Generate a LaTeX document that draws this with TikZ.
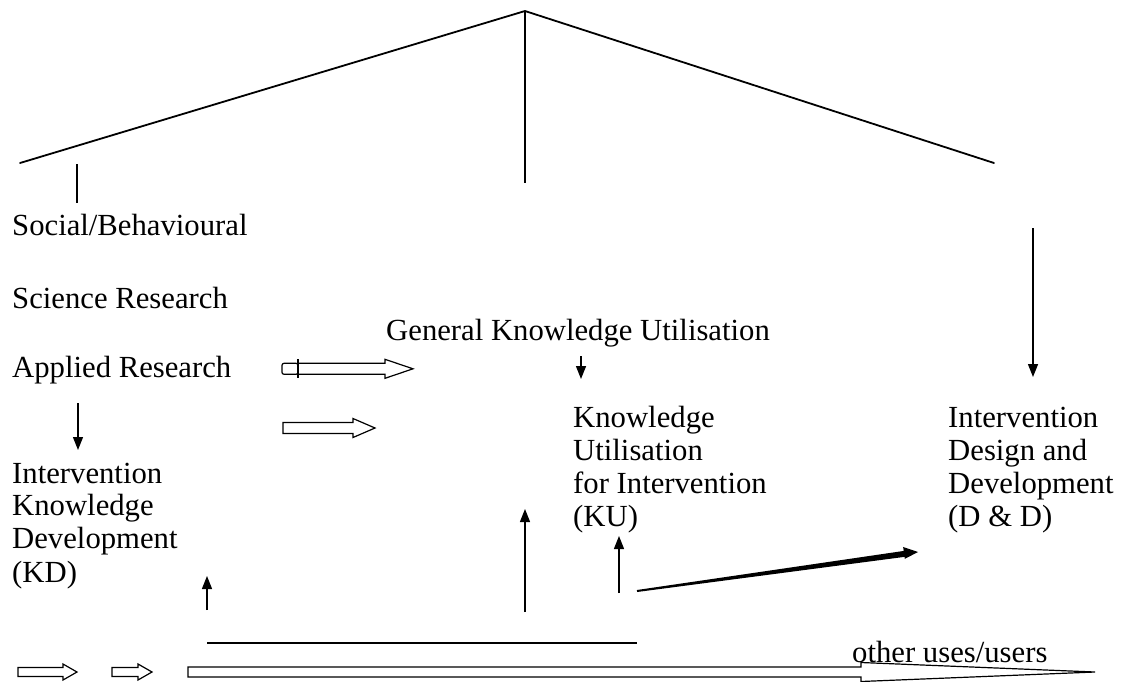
\documentclass[tikz,border=0pt]{standalone}
\usepackage{fontspec}
\setmainfont{Liberation Serif}
\usetikzlibrary{arrows.meta}
\newcommand\hollowarr[7]{% name x1 x2 y shafthalf headhalf headlen
  \draw[hollow] (#2,#4-#5) coordinate (#1-s) -- (#3-#7,#4-#5) -- (#3-#7,#4-#6) -- (#3,#4) coordinate (#1-t) -- (#3-#7,#4+#6) -- (#3-#7,#4+#5) -- (#2,#4+#5) -- cycle;}
\begin{document}
\begin{tikzpicture}[x=1pt,y=-1pt,
  txt/.style={anchor=base west,inner sep=0pt,font=\fontsize{30.7}{34}\selectfont},
  roof/.style={line width=1.8pt,line cap=round,line join=miter},
  thinline/.style={line width=1.3pt},
  darrow/.style={line width=1.4pt,-{Triangle[length=13pt,width=10pt]}},
  hollow/.style={line width=1.2pt,fill=white,line join=miter}]
\useasboundingbox (0,0) rectangle (1124,681);

% roof
\coordinate (rl) at (20,163);
\coordinate (apex) at (525,11);
\coordinate (rr) at (994,163);
\coordinate (ab) at (525,183);
\draw[roof] (rl) -- (apex) -- (rr);
\draw[thinline] (apex) -- (ab);
\coordinate (tt) at (77,164);
\coordinate (tb) at (77,203);
\draw[thinline] (tt) -- (tb);

% texts
\node[txt] (sb) at (12,235) {Social/Behavioural};
\node[txt] (sr) at (12,308) {Science Research};
\node[txt] (ar) at (12,377) {Applied Research};
\node[txt] (gku) at (386,340) {General Knowledge Utilisation};

\node[txt] (ku1) at (573,427) {Knowledge};
\node[txt] (ku2) at (573,460) {Utilisation};
\node[txt] (ku3) at (573,493) {for Intervention};
\node[txt] (ku4) at (573,526) {(KU)};

\node[txt] (dd1) at (948,427) {Intervention};
\node[txt] (dd2) at (948,460) {Design and};
\node[txt] (dd3) at (948,493) {Development};
\node[txt] (dd4) at (948,526) {(D \& D)};

\node[txt] (kd1) at (12,483) {Intervention};
\node[txt] (kd2) at (12,515) {Knowledge};
\node[txt] (kd3) at (12,548) {Development};
\node[txt] (kd4) at (12,582) {(KD)};

% black arrows
\coordinate (ra1) at (1033,228);
\coordinate (ra2) at (1033,377);
\draw[darrow] (ra1) -- (ra2);
\coordinate (la1) at (78,403);
\coordinate (la2) at (78,450);
\draw[darrow] (la1) -- (la2);
\coordinate (ma1) at (581,356);
\coordinate (ma2) at (581,379);
\draw[darrow] (ma1) -- (ma2);

\coordinate (u1a) at (207,610);
\coordinate (u1b) at (207,576);
\draw[darrow] (u1a) -- (u1b);
\coordinate (u2a) at (525,612);
\coordinate (u2b) at (525,509);
\draw[darrow] (u2a) -- (u2b);
\coordinate (u3a) at (619,593);
\coordinate (u3b) at (619,536);
\draw[darrow] (u3a) -- (u3b);

% tapered thick arrow
\fill (636.86,590.01) -- (903.69,550.93) -- (903.14,546.97) -- (918,552) -- (904.79,558.85) -- (904.51,556.87) -- (637.14,591.99) -- cycle;

% bottom line
\coordinate (bl1) at (207,643);
\coordinate (bl2) at (637,643);
\draw[thinline] (bl1) -- (bl2);

% hollow arrows
\draw[hollow,rounded corners=2pt] (282,363.3) rectangle (298,374.3);
\hollowarr{h1}{298}{413}{368.8}{5.5}{9.5}{28}
\draw[hollow] (298,359) -- (298,378);
\hollowarr{h2}{283}{375}{428}{5.5}{9.5}{22}

\hollowarr{b1}{18}{77}{672}{4.5}{8}{14}
\hollowarr{b2}{112}{152}{672}{4.5}{8}{14}
\hollowarr{b3}{188}{1095}{672}{5}{9.5}{234}

\node[txt] (ou) at (852,662) {other uses/users};
\end{tikzpicture}
\end{document}
